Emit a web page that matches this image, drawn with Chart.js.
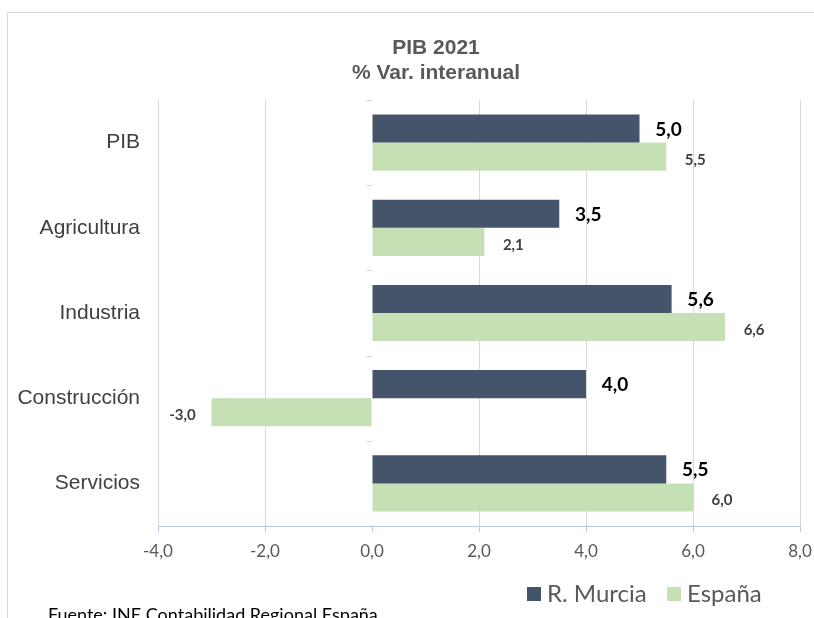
<!DOCTYPE html>
<html>
<head>
<meta charset="utf-8">
<script src="https://cdn.jsdelivr.net/npm/chart.js@4.4.1/dist/chart.umd.min.js"></script>
<style>
  html, body { margin: 0; padding: 0; background: #ffffff; }
  #wrap { width: 814px; height: 618px; position: relative; }
</style>
</head>
<body>
<div id="wrap"><canvas id="c" width="814" height="618"></canvas></div>
<script>
const categories = ["PIB", "Agricultura", "Industria", "Construcción", "Servicios"];
const murcia = [5.0, 3.5, 5.6, 4.0, 5.5];
const espana = [5.5, 2.1, 6.6, -3.0, 6.0];
const seriesNames = ["R. Murcia", "España"];
const titleLines = ["PIB 2021", "% Var. interanual"];
const footnote = "Fuente: INE Contabilidad Regional España";

const fmt = v => v.toFixed(1).replace('.', ',');

const decor = {
  id: 'decor',
  beforeDraw(chart) {
    const ctx = chart.ctx;
    ctx.save();
    ctx.fillStyle = '#ffffff';
    ctx.fillRect(0, 0, chart.width, chart.height);
    ctx.strokeStyle = '#d9d9d9';
    ctx.lineWidth = 1;
    ctx.beginPath();
    ctx.moveTo(7.5, chart.height);
    ctx.lineTo(7.5, 12.5);
    ctx.lineTo(chart.width, 12.5);
    ctx.stroke();
    ctx.restore();
  },
  afterDatasetsDraw(chart) {
    const ctx = chart.ctx;
    const xs = chart.scales.x, ys = chart.scales.y;
    const x0 = xs.getPixelForValue(0);
    ctx.save();
    ctx.strokeStyle = '#d9d9d9';
    ctx.lineWidth = 1;
    const n = categories.length;
    const band = (ys.bottom - ys.top) / n;
    for (let i = 0; i < n; i++) {
      const yy = Math.round(ys.top + band * i) + 0.5;
      ctx.beginPath();
      ctx.moveTo(x0 - 6, yy);
      ctx.lineTo(x0, yy);
      ctx.stroke();
    }
    chart.data.datasets.forEach((ds, di) => {
      const meta = chart.getDatasetMeta(di);
      meta.data.forEach((bar, i) => {
        const v = ds.data[i];
        const dir = v >= 0 ? 1 : -1;
        if (di === 0) {
          ctx.font = 'bold 19px Lato, "Open Sans", sans-serif';
          ctx.fillStyle = '#000000';
        } else {
          ctx.font = 'bold 15px Lato, "Open Sans", sans-serif';
          ctx.fillStyle = '#404040';
        }
        ctx.textAlign = 'center';
        ctx.textBaseline = 'middle';
        ctx.fillText(fmt(v), bar.x + dir * 29, bar.y + (di === 0 ? 1 : 3));
      });
    });
    ctx.restore();
  },
  afterDraw(chart) {
    const ctx = chart.ctx;
    ctx.save();
    ctx.fillStyle = '#595959';
    ctx.font = 'bold 21px "Liberation Sans", Arial, sans-serif';
    ctx.textAlign = 'center';
    ctx.textBaseline = 'middle';
    ctx.fillText(titleLines[0], 436, 48);
    ctx.fillText(titleLines[1], 436, 73);
    const items = [
      { x: 527, label: seriesNames[0], color: chart.data.datasets[0].backgroundColor },
      { x: 667, label: seriesNames[1], color: chart.data.datasets[1].backgroundColor }
    ];
    ctx.font = '24px Lato, "Open Sans", sans-serif';
    ctx.textAlign = 'left';
    items.forEach(it => {
      ctx.fillStyle = it.color;
      ctx.fillRect(it.x, 587, 14, 14);
      ctx.fillStyle = '#595959';
      ctx.fillText(it.label, it.x + 20, 594);
    });
    ctx.font = '18px Lato, "Open Sans", sans-serif';
    ctx.fillStyle = '#000000';
    ctx.textBaseline = 'alphabetic';
    ctx.fillText(footnote, 48, 621);
    ctx.restore();
  }
};

new Chart(document.getElementById('c'), {
  type: 'bar',
  data: {
    labels: categories,
    datasets: [
      { label: seriesNames[0], data: murcia, backgroundColor: '#44546a', borderWidth: 0 },
      { label: seriesNames[1], data: espana, backgroundColor: '#c5e0b4', borderWidth: 0 }
    ]
  },
  options: {
    indexAxis: 'y',
    responsive: false,
    animation: false,
    devicePixelRatio: 1,
    layout: { padding: { left: 0, right: 14, top: 100, bottom: 52 } },
    plugins: { legend: { display: false }, title: { display: false }, tooltip: { enabled: false } },
    datasets: { bar: { categoryPercentage: 0.66, barPercentage: 1.0 } },
    scales: {
      x: {
        min: -4, max: 8,
        ticks: {
          stepSize: 2,
          callback: v => fmt(v),
          color: '#595959',
          font: { family: 'Lato, "Open Sans", sans-serif', size: 17 },
          padding: 9
        },
        grid: {
          color: ctx => (ctx.tick && ctx.tick.value === 0) ? 'rgba(0,0,0,0)' : '#d9d9d9',
          tickColor: '#b4c7e7',
          tickLength: 6,
          lineWidth: 1
        },
        border: { display: true, color: '#b4c7e7', width: 1 },
        afterFit: s => { s.height = 40; s.paddingLeft = 0; s.paddingRight = 0; }
      },
      y: {
        ticks: {
          color: '#404040',
          font: { family: '"Liberation Sans", Arial, sans-serif', size: 21 },
          padding: 18
        },
        grid: { display: false, drawTicks: false },
        border: { display: false },
        afterFit: s => { s.width = 158; s.paddingTop = 0; s.paddingBottom = 0; }
      }
    }
  },
  plugins: [decor]
});
</script>
</body>
</html>
